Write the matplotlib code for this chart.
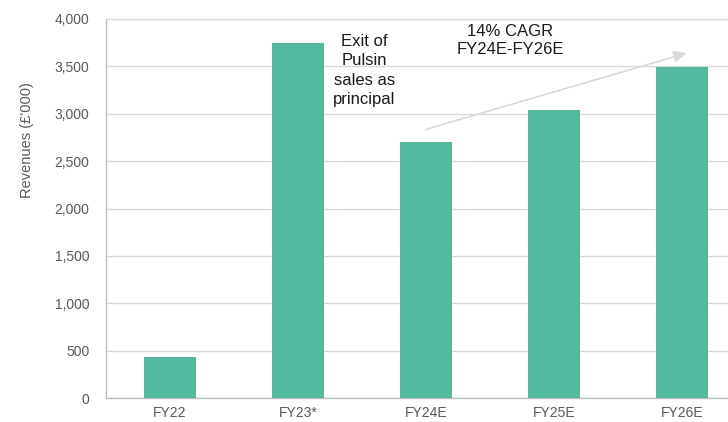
import numpy as np
import matplotlib
matplotlib.use("Agg")
import matplotlib.pyplot as plt
from matplotlib.ticker import FuncFormatter

categories = ["FY22", "FY23*", "FY24E", "FY25E", "FY26E"]
revenues = [433, 3745, 2700, 3040, 3495]
yticks = [0, 500, 1000, 1500, 2000, 2500, 3000, 3500, 4000]

plt.rcParams['font.family'] = ['Liberation Sans', 'DejaVu Sans']

fig = plt.figure(figsize=(7.28, 4.22), dpi=100)
ax = fig.add_axes([106 / 728, 24 / 422, 640 / 728, 379 / 422])

x = np.arange(len(categories))
ax.bar(x, revenues, width=0.4, color="#52b99e", zorder=3)

ax.set_xlim(-0.5, 4.5)
ax.set_ylim(0, 4000)
ax.set_yticks(yticks)
ax.yaxis.set_major_formatter(FuncFormatter(lambda v, p: f"{int(v):,}"))
ax.set_xticks(x)
ax.set_xticklabels(categories)
ax.grid(axis="y", color="#d9d9d9", linewidth=1, zorder=0)
ax.tick_params(axis="both", length=0, labelsize=10, labelcolor="#595959")
ax.tick_params(axis="x", pad=6)
ax.tick_params(axis="y", pad=12)
for s in ["top", "right"]:
    ax.spines[s].set_visible(False)
for s in ["left", "bottom"]:
    ax.spines[s].set_color("#bfbfbf")
    ax.spines[s].set_linewidth(1)

ax.set_ylabel("Revenues (£'000)", fontsize=10.5, color="#595959")
ax.yaxis.set_label_coords(-0.112, 0.68)

ax.text(1.52, 3845, "Exit of\nPulsin\nsales as\nprincipal", ha="center", va="top",
        fontsize=12, color="#1a1a1a", linespacing=1.38)
ax.text(2.66, 3950, "14% CAGR\nFY24E-FY26E", ha="center", va="top",
        fontsize=12, color="#1a1a1a", linespacing=1.3)
ax.annotate("", xy=(4.06, 3650), xytext=(1.98, 2827),
            arrowprops=dict(arrowstyle="-|>,head_length=0.8,head_width=0.35",
                            color="#d9d9d9", lw=1.2), zorder=4)

fig.savefig("out.png", dpi=100)
